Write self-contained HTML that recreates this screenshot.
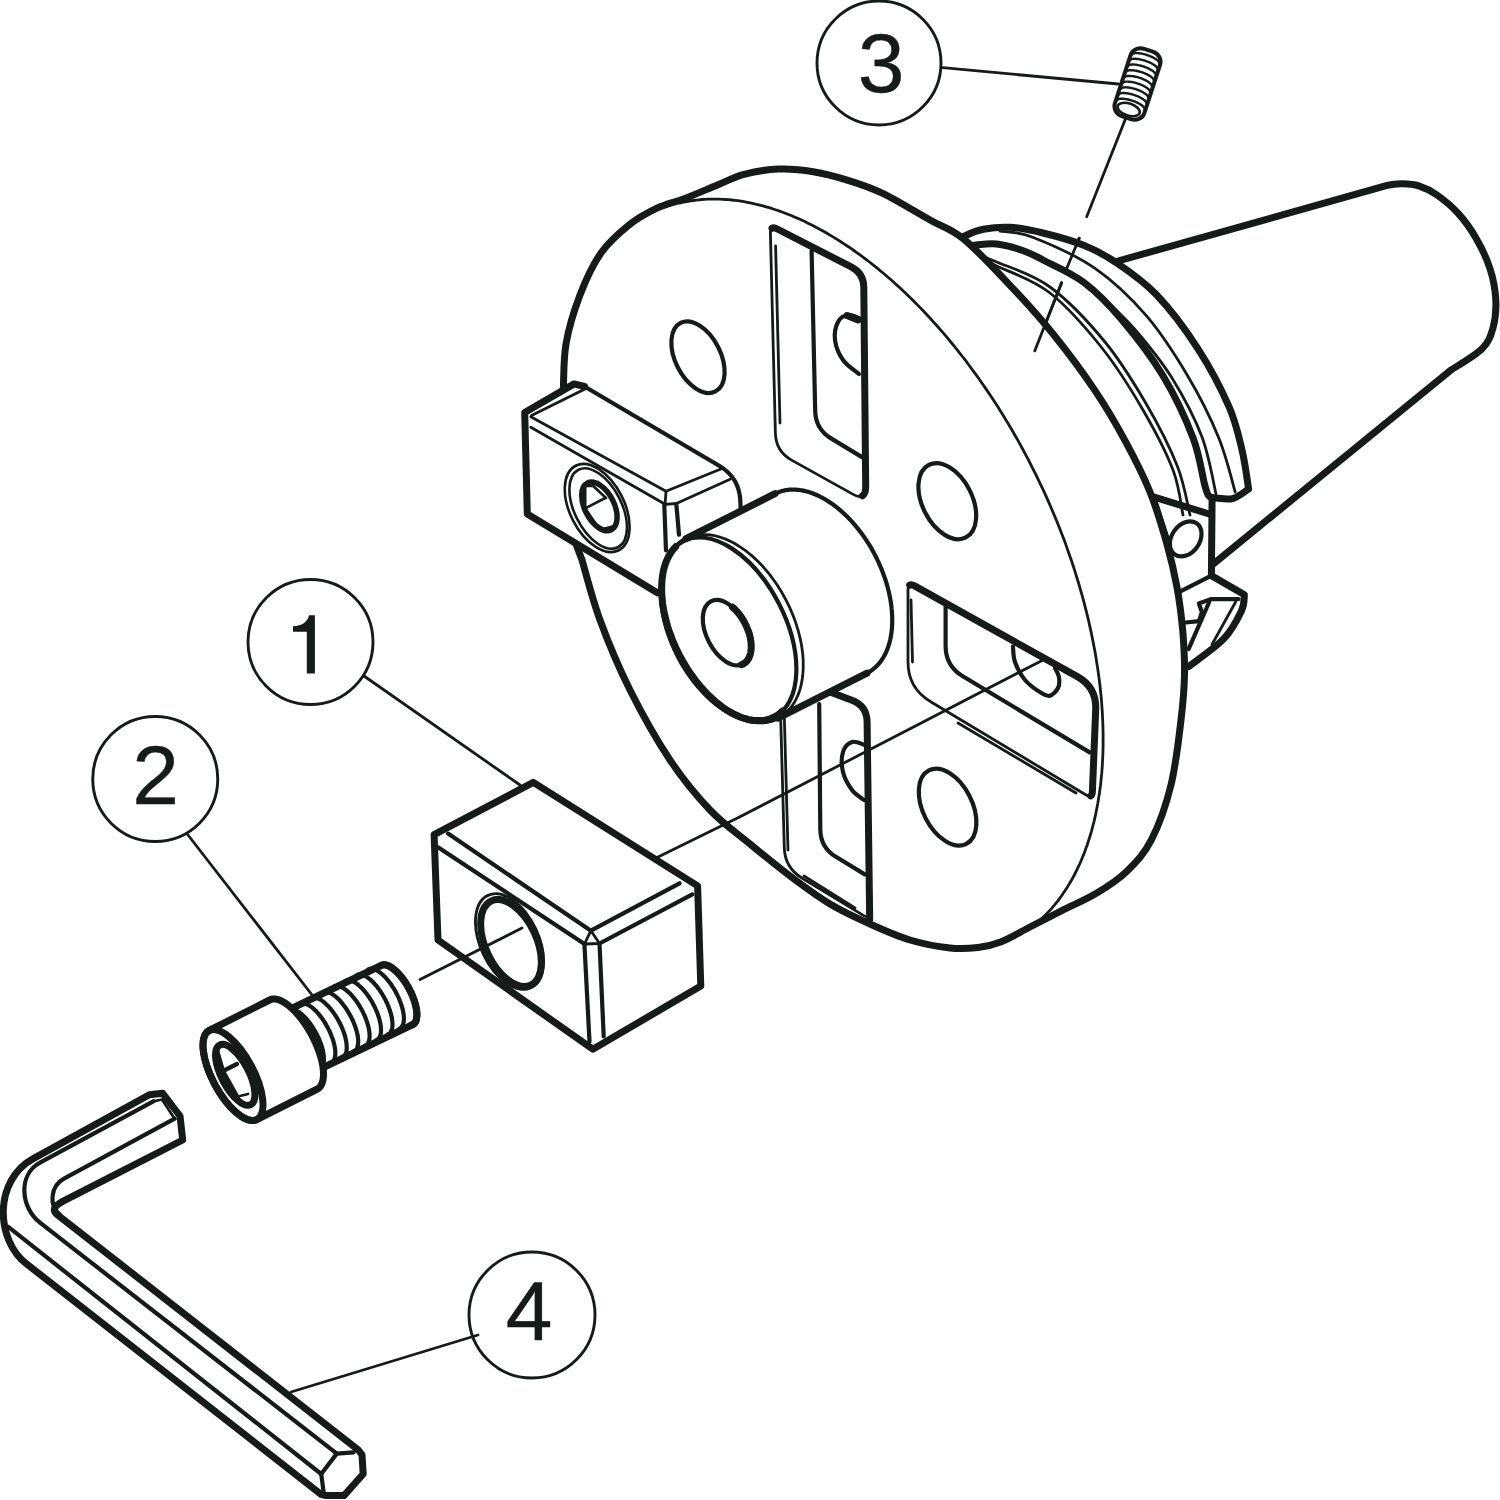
<!DOCTYPE html>
<html><head><meta charset="utf-8"><style>
html,body{margin:0;padding:0;background:#fff;}
svg{display:block;}
text{font-family:"Liberation Sans",sans-serif;}
</style></head><body>
<svg width="1500" height="1500" viewBox="0 0 1500 1500">
<g fill="none" stroke="#161a19" stroke-linecap="round" stroke-linejoin="round">
<circle cx="879" cy="63" r="62" stroke-width="2.9" fill="#fff"/>
<circle cx="310.5" cy="642" r="62.5" stroke-width="2.9" fill="#fff"/>
<circle cx="155.25" cy="779" r="62.5" stroke-width="2.9" fill="#fff"/>
<circle cx="532" cy="1315" r="63" stroke-width="2.9" fill="#fff"/>
<path d="M942.7 67.7 L1118.3 84" stroke-width="2.8" fill="none"/>
<path d="M364 676 L520 785" stroke-width="2.8" fill="none"/>
<path d="M188 835 L311.7 994.5" stroke-width="2.8" fill="none"/>
<path d="M478 1335 L291 1392" stroke-width="2.8" fill="none"/>
<path d="M1128.3 111.7 L1086.7 216.7" stroke-width="2.8" fill="none"/>
<path d="M1079.2 238.2 L1066.8 268.2" stroke-width="2.8" fill="none"/>
<path d="M1061.6 282.7 L1034.7 350.9" stroke-width="2.8" fill="none"/>
<path d="M1111 263 L1388 185.2 C1390.3 185 1396.9 183.7 1402 183.8 C1407.1 183.9 1413 184 1418.8 185.9 C1424.6 187.8 1430.5 190.4 1437 195 C1443.5 199.6 1451.5 206 1458 213.2 C1464.5 220.4 1470.8 229.1 1476.2 238.4 C1481.6 247.7 1486.9 258.9 1490.2 269.2 C1493.5 279.5 1495.3 290.2 1495.8 300 C1496.3 309.8 1495.3 319.8 1493 328 C1490.7 336.2 1488.8 342 1481.8 349 C1474.8 356 1456.1 366.5 1451 370 L1213.3 564" stroke-width="7" fill="#fff"/>
<path d="M950 245 C952.5 243.5 959.2 238.6 964.7 236 C970.2 233.4 975.8 230.8 983.3 229.3 C990.8 227.9 1000 226.7 1010 227.3 C1020 227.9 1030.6 230 1043 233 C1055.4 236 1072.2 240.7 1084.3 245.5 C1096.3 250.3 1103.2 253.8 1115.3 262 C1127.4 270.2 1142.9 280.5 1156.7 295 C1170.5 309.5 1186 330.2 1198 348.8 C1210 367.4 1221.7 389.8 1229 406.7 C1236.3 423.6 1238.7 436.3 1242 450 C1245.3 463.7 1247.5 482.5 1248.6 489 C1245.9 490.6 1238.3 497.1 1232.7 498.6 C1227.1 500.1 1218 498 1215 497.9 C1214 497.6 1210.7 498 1209 496 C1207.3 494 1207.7 495.7 1205 486 C1202.3 476.3 1200 456.1 1193 437.7 C1186 419.3 1174.8 395.3 1163 375.7 C1151.2 356.1 1135.1 335.4 1122 319.9 C1108.9 304.4 1097.5 292.7 1084.3 282.7 C1071.1 272.7 1053.2 265.3 1043 260 C1032.8 254.7 1031 253.4 1023.3 250.7 C1015.6 248 1004.9 244.9 996.7 244 C988.5 243.1 977.8 245.1 974 245.3" stroke-width="7" fill="#fff"/>
<path d="M1000 231 C1005.5 232 1016.9 231 1032.7 237.2 C1048.5 243.4 1075.8 255.1 1094.7 268.2 C1113.6 281.3 1130.8 297.8 1146.3 315.7 C1161.8 333.6 1175.5 355.4 1187.6 375.7 C1199.7 396 1210.8 418.3 1218.7 437.7 C1226.6 457.1 1232.5 482.9 1235.2 492" stroke-width="2.8" fill="none"/>
<path d="M1116 310 C1119.7 313.8 1128.7 321.7 1138 333 C1147.3 344.3 1161.3 360.7 1172 378 C1182.7 395.3 1194.7 417.7 1202 437 C1209.3 456.3 1213.7 484.5 1216 494" stroke-width="2.8" fill="none"/>
<path d="M978.9 255.8 C981.9 256.8 984.9 256.8 996.7 262 C1008.6 267.2 1032 273.7 1050 287 C1068 300.3 1089 322.5 1105 342 C1121 361.5 1134.2 383.3 1146.3 404 C1158.3 424.7 1170 447.5 1177.3 466 C1184.6 484.5 1187.9 506.8 1190 515" stroke-width="2.8" fill="none"/>
<path d="M982 260 C984.5 261 985.4 260.5 996.7 266 C1008 271.5 1032.5 279.3 1050 293 C1067.5 306.7 1086.5 328.5 1102 348 C1117.5 367.5 1131.2 389.7 1143 410 C1154.8 430.3 1166.3 452.5 1173 470 C1179.7 487.5 1181.3 507.5 1183 515" stroke-width="2.8" fill="none"/>
<path d="M1212.1 497.9 L1211.4 575" stroke-width="7" fill="none"/>
<path d="M1154.2 497.1 L1209.2 514" stroke-width="7" fill="none"/>
<path d="M1154.2 497.1 L1168.1 540" stroke-width="4.2" fill="none"/>
<ellipse cx="1185.7" cy="538.9" rx="14" ry="19" transform="rotate(35 1185.7 538.9)" stroke-width="4.2" fill="none"/>
<path d="M1211.4 575.6 L1244.4 594.7 C1243.9 597.4 1244.9 603.5 1241.5 610.8 C1238.1 618.1 1232.7 629.4 1223.9 638.7 C1215.1 648 1194.6 661.9 1188.7 666.5" stroke-width="7" fill="none"/>
<path d="M1211.4 575.6 L1179.9 591.7" stroke-width="4.2" fill="none"/>
<path d="M1238.5 599.1 L1210.7 599.1 L1198.9 603.5 L1201.9 612.3 L1198.9 621.1 L1185.7 622.5" stroke-width="4.2" fill="none"/>
<path d="M1209.2 602 L1188.7 648.9" stroke-width="4.2" fill="none"/>
<path d="M1235.6 602 L1212 644.5" stroke-width="2.8" fill="none"/>
<path d="M567 520 C566 511.7 561.9 485 561 470 C560.1 455 561.1 442.8 561.5 430 C561.9 417.2 562.5 407.3 563.2 393 C564 378.7 563.2 360.3 566 344 C568.8 327.7 574.2 310.2 580 295 C585.8 279.8 592.8 264.7 601 253 C609.2 241.3 619.7 232.5 629 225 C638.3 217.5 647.7 212.6 657 208.2 C666.3 203.8 674.8 202.3 685 198.4 C695.2 194.5 708.2 188.7 718 184.7 C727.8 180.7 733.9 176.9 744 174.3 C754.1 171.7 767.2 169.5 778.7 169.1 C790.2 168.7 801.8 169.8 813.3 171.7 C824.8 173.6 836.4 176.7 848 180.3 C859.6 183.9 869 186.7 882.7 193.3 C896.4 199.9 916.6 212.4 930 220 C943.4 227.6 950 227.8 963.3 238.7 C976.6 249.6 995 269.4 1010 285.3 C1025 301.2 1039.2 316.8 1053.3 334.3 C1067.4 351.8 1082.6 372.2 1094.7 390.1 C1106.8 408 1116.5 424.8 1125.7 441.8 C1134.9 458.8 1143.2 475.1 1150 492 C1156.8 508.9 1162.2 527.4 1166.7 543.3 C1171.2 559.2 1174.3 572.6 1177 587.3 C1179.7 602 1181.5 616.7 1182.8 631.3 C1184 645.9 1184.8 660.2 1184.5 675 C1184.2 689.8 1183.2 701.7 1181 720 C1178.8 738.3 1175.9 765 1171 785 C1166.1 805 1158.8 825.4 1151.5 839.7 C1144.2 854 1136.5 861.9 1127.2 870.9 C1118 879.9 1107 886.9 1096 893.5 C1085 900.1 1072.3 905.2 1061.3 910.8 C1050.3 916.4 1040.1 921.8 1030 927 C1019.9 932.2 1009.4 938.6 1000.7 942 C992 945.4 986.5 946.5 978 947.5 C969.5 948.5 961.3 949.2 950 948 C938.7 946.8 923.3 944 910 940 C896.7 936 883.3 930 870 924 C856.7 918 843.3 912 830 904 C816.7 896 803.3 886 790 876 C776.7 866 763.3 855 750 844 C736.7 833 723.3 824 710 810 C696.7 796 683.3 780 670 760 C656.7 740 641.7 713.3 630 690 C618.3 666.7 608 641.7 600 620 C592 598.3 585 570 582 560Z" stroke-width="7" fill="#fff"/>
<path d="M679.6 203.1 L682.3 202.5 L685.1 201.9 L687.9 201.4 L690.7 200.9 L693.5 200.5 L696.3 200.1 L699.2 199.8 L702 199.5 L704.9 199.3 L707.8 199.2 L710.8 199.1 L713.7 199.1 L716.7 199.1 L719.7 199.1 L722.7 199.3 L725.7 199.5 L728.7 199.7 L731.7 200 L734.8 200.3 L737.9 200.7 L741 201.2 L744 201.7 L747.2 202.3 L750.3 202.9 L753.4 203.6 L756.6 204.3 L759.7 205.1 L762.9 205.9 L766.1 206.8 L769.2 207.7 L772.4 208.7 L775.6 209.8 L778.9 210.9 L782.1 212 L785.3 213.2 L788.5 214.5 L791.8 215.8 L795 217.2 L798.3 218.6 L801.5 220.1 L804.8 221.6 L808 223.2 L811.3 224.8 L814.6 226.5 L817.8 228.2 L821.1 230 L824.4 231.8 L827.7 233.7 L830.9 235.6 L834.2 237.6 L837.5 239.6 L840.8 241.7 L844 243.8 L847.3 246 L850.6 248.2 L853.9 250.5 L857.1 252.8 L860.4 255.2 L863.6 257.6 L866.9 260 L870.1 262.5 L873.4 265.1 L876.6 267.7 L879.8 270.3 L883.1 273 L886.3 275.7 L889.5 278.5 L892.7 281.3 L895.9 284.2 L899 287.1 L902.2 290 L905.4 293 L908.5 296 L911.6 299.1 L914.8 302.2 L917.9 305.4 L921 308.5 L924.1 311.8 L927.1 315 L930.2 318.3 L933.2 321.7 L936.3 325 L939.3 328.5 L942.3 331.9 L945.3 335.4 L948.2 338.9 L951.2 342.5 L954.1 346 L957 349.7 L959.9 353.3 L962.8 357 L965.7 360.7 L968.5 364.5 L971.3 368.3 L974.1 372.1 L976.9 375.9 L979.6 379.8 L982.4 383.7 L985.1 387.6 L987.8 391.6 L990.4 395.5 L993.1 399.5 L995.7 403.6 L998.3 407.6 L1000.9 411.7 L1003.4 415.8 L1005.9 420 L1008.4 424.1 L1010.9 428.3 L1013.4 432.5 L1015.8 436.7 L1018.2 440.9 L1020.5 445.2 L1022.9 449.5 L1025.2 453.8 L1027.5 458.1 L1029.7 462.4 L1031.9 466.8 L1034.1 471.1 L1036.3 475.5 L1038.4 479.9 L1040.5 484.3 L1042.6 488.7 L1044.7 493.2 L1046.7 497.6 L1048.7 502.1 L1050.6 506.5 L1052.5 511 L1054.4 515.5 L1056.3 520 L1058.1 524.5 L1059.9 529 L1061.6 533.5 L1063.4 538.1 L1065.1 542.6 L1066.7 547.1 L1068.3 551.7 L1069.9 556.2 L1071.5 560.8 L1073 565.3 L1074.5 569.9 L1075.9 574.4 L1077.3 579 L1078.7 583.5 L1080 588.1 L1081.3 592.6 L1082.6 597.2 L1083.8 601.7 L1085 606.3 L1086.2 610.8 L1087.3 615.3 L1088.4 619.8 L1089.4 624.4 L1090.4 628.9 L1091.4 633.4 L1092.3 637.9 L1093.2 642.4 L1094.1 646.9 L1094.9 651.3 L1095.7 655.8 L1096.4 660.2 L1097.1 664.7 L1097.8 669.1 L1098.4 673.5 L1099 677.9 L1099.6 682.3 L1100.1 686.6 L1100.5 691 L1101 695.3 L1101.4 699.6 L1101.7 703.9 L1102 708.2 L1102.3 712.5 L1102.5 716.7 L1102.7 720.9 L1102.9 725.1 L1103 729.3 L1103.1 733.5 L1103.1 737.6 L1103.1 741.7 L1103.1 745.8 L1103 749.8 L1102.9 753.9 L1102.7 757.9 L1102.5 761.9 L1102.3 765.8 L1102 769.8 L1101.7 773.7 L1101.3 777.5 L1100.9 781.4 L1100.5 785.2 L1100 789 L1099.5 792.7 L1098.9 796.4 L1098.3 800.1 L1097.7 803.8 L1097 807.4 L1096.3 811 L1095.6 814.6 L1094.8 818.1 L1094 821.6 L1093.1 825 L1092.2 828.4 L1091.3 831.8 L1090.3 835.2 L1089.3 838.5 L1088.2 841.7 L1087.2 845 L1086 848.1 L1084.9 851.3 L1083.7 854.4 L1082.4 857.5 L1081.2 860.5 L1079.9 863.5 L1078.5 866.4 L1077.1 869.3 L1075.7 872.2 L1074.3 875 L1072.8 877.8 L1071.3 880.5 L1069.7 883.2 L1068.1 885.9 L1066.5 888.5 L1064.8 891 L1063.1 893.5 L1061.4 896 L1059.7 898.4 L1057.9 900.8 L1056 903.1 L1054.2 905.4 L1052.3 907.6 L1050.4 909.8 L1048.4 911.9 L1046.4 914 L1044.4 916 L1042.3 918 L1040.3 919.9 L1038.2 921.8 L1036 923.6 L1033.8 925.4" stroke-width="2.8" fill="none"/>
<ellipse cx="698" cy="357.2" rx="22.6" ry="38.4" transform="rotate(-27 698 357.2)" stroke-width="4.2" fill="none"/>
<ellipse cx="947.3" cy="501.2" rx="24.9" ry="40.7" transform="rotate(-27 947.3 501.2)" stroke-width="4.2" fill="none"/>
<ellipse cx="947.6" cy="807.2" rx="24.6" ry="41.2" transform="rotate(-27 947.6 807.2)" stroke-width="4.2" fill="none"/>
<path d="M777.3 229.0 L851.2 266.9 Q863.7 273.3 863.8 287.3 L865.7 486.4 Q865.8 501.4 852.7 494.1 L791.6 460.1 Q775.9 451.4 775.4 433.4 L770.4 233.3 Q770.2 225.3 777.3 229.0Z" stroke-width="2.8" fill="none"/>
<path d="M772.0 228.2 Q773.8 227.1 777.3 229.0 L851.2 266.9 Q863.7 273.3 863.8 287.3 L865.7 486.4 Q865.7 493.9 862.5 495.8" stroke-width="7.0" fill="none"/>
<path d="M775.6 246 L780 423" stroke-width="2.8" fill="none"/>
<path d="M811.6 250.8 L815.2 411.0 Q815.6 429.0 831.0 438.4 L862.0 457.1" stroke-width="4.2" fill="none"/>
<path d="M861 319 C858.8 318.3 851.8 314.5 848 315 C844.2 315.5 840.2 317.8 838 322 C835.8 326.2 834.2 333.7 835 340 C835.8 346.3 839 354.3 843 360 C847 365.7 856.3 371.7 859 374" stroke-width="4.2" fill="none"/>
<path d="M847 315.5 L858 320" stroke-width="7" fill="none"/>
<path d="M915.0 586.1 L1077.4 676.6 Q1096.6 687.4 1095.7 709.3 L1092.4 791.6 Q1092.1 798.6 1086.1 795.0 L930.3 701.5 Q908.0 688.1 908.0 662.1 L908.0 590.2 Q908.0 582.2 915.0 586.1Z" stroke-width="2.8" fill="none"/>
<path d="M909.7 585.1 Q911.5 584.1 915.0 586.1 L1077.4 676.6 Q1096.6 687.4 1095.7 709.3 L1092.4 791.6 Q1092.3 795.1 1090.7 795.9" stroke-width="7.0" fill="none"/>
<path d="M911 600 L912.5 662" stroke-width="2.8" fill="none"/>
<path d="M958 723 L1076 793" stroke-width="2.8" fill="none"/>
<path d="M945.6 606.8 L945.6 646.0 Q945.6 666.0 962.8 676.3 L1089.7 752.4" stroke-width="4.2" fill="none"/>
<path d="M1013 646.6 C1013.3 649.2 1013 656.4 1015 662 C1017 667.6 1020.7 674.9 1025 680 C1029.3 685.1 1036.5 690 1040.6 692.6 C1044.7 695.2 1046.9 696.5 1049.8 695.7 C1052.7 694.9 1056.5 691.1 1058 688 C1059.5 684.9 1059.5 680.6 1059 677.3 C1058.5 674 1055.7 669.5 1055 668" stroke-width="4.2" fill="none"/>
<path d="M779.9 690.0 L784.3 847.6 Q784.8 867.6 801.9 878.0 L863.7 915.6 Q869.7 919.2 869.6 912.2 L867.1 722.0 Q866.9 706.0 851.9 700.3 L830.0 692.0" stroke-width="2.8" fill="none"/>
<path d="M869.7 919.2 L867.1 722.0 Q866.9 706.0 851.9 700.3 L830.0 692.0" stroke-width="7.0" fill="none"/>
<path d="M784 705 L788 850" stroke-width="2.8" fill="none"/>
<path d="M804 876 L855 908" stroke-width="2.8" fill="none"/>
<path d="M819.2 704.0 L820.3 829.4 Q820.5 847.4 835.9 856.8 L864.8 874.4" stroke-width="4.2" fill="none"/>
<path d="M864.8 745 C862.7 744.5 855.6 740.8 852 742 C848.4 743.2 844.5 747 843 752 C841.5 757 841.5 765.7 843 772 C844.5 778.3 848.5 785.3 852 790 C855.5 794.7 862 798.3 864 800" stroke-width="4.2" fill="none"/>
<path d="M740 816.8 L1042.1 660.4" stroke-width="2.8" fill="none"/>
<path d="M524.7 412.5 L574.1 383.9 L584.5 386.5 L721.5 467.1 L733.6 477.5 L740.5 501.7 L741 530 L657.3 592.7 L527.3 513.9Z" stroke-width="0" fill="#fff"/>
<path d="M584.5 386.5 L574.1 383.9 L524.7 412.5 L527.3 513.9 L657.3 592.7" stroke-width="7" fill="none"/>
<path d="M584.5 386.5 L719.2 465.7 Q739.8 477.9 740.4 501.9 L741.0 525.0" stroke-width="4.2" fill="none"/>
<path d="M530.8 416.8 L666 491.3 L721.5 468.8" stroke-width="2.8" fill="none"/>
<path d="M531.5 415.5 L586 388.5" stroke-width="2.8" fill="none"/>
<path d="M530.8 427.2 L665.1 504.3 L676.4 503.5 L730.1 479.2" stroke-width="2.8" fill="none"/>
<path d="M666 491.3 L665.1 504.3" stroke-width="2.8" fill="none"/>
<path d="M664.3 505 L666 550.3" stroke-width="4.2" fill="none"/>
<path d="M676.4 505 L679 534.7" stroke-width="4.2" fill="none"/>
<ellipse cx="597.2" cy="508" rx="27.2" ry="47.4" transform="rotate(-27 597.2 508)" stroke-width="2.6" fill="none"/>
<ellipse cx="598.2" cy="508.5" rx="23.5" ry="43.5" transform="rotate(-27 598.2 508.5)" stroke-width="2.6" fill="none"/>
<ellipse cx="599.4" cy="506.4" rx="14.7" ry="26.2" transform="rotate(-27 599.4 506.4)" stroke-width="5.5" fill="none"/>
<path d="M585.2 486 L593.2 486 L606 498 M585.2 486 L585.2 508.4 L600 530 L614 526 M585.2 508.4 L605.2 498" stroke-width="2.6" fill="none"/>
<path d="M660.8 590.8 L660.8 589.3 L660.8 587.8 L660.9 586.3 L661 584.9 L661.1 583.4 L661.2 582 L661.4 580.6 L661.5 579.1 L661.7 577.8 L662 576.4 L662.2 575 L662.5 573.7 L662.7 572.4 L663 571.1 L663.4 569.8 L663.7 568.5 L664.1 567.3 L664.5 566 L664.9 564.8 L665.3 563.6 L665.7 562.5 L666.2 561.3 L666.7 560.2 L667.2 559 L667.7 558 L668.3 556.9 L668.8 555.8 L669.4 554.8 L670 553.8 L670.6 552.8 L671.3 551.9 L671.9 550.9 L672.6 550 L673.3 549.1 L674 548.3 L674.8 547.4 L675.5 546.6 L676.3 545.8 L677.1 545 L677.9 544.3 L678.7 543.6 L679.5 542.9 L680.4 542.2 L681.2 541.6 L682.1 541 L683 540.4 L683.9 539.9 L684.8 539.3 L685.8 538.8 L774.8 493.8 L775.7 493.4 L776.7 492.9 L777.7 492.5 L778.7 492.1 L779.7 491.7 L780.7 491.4 L781.7 491.1 L782.8 490.8 L783.8 490.6 L784.9 490.3 L786 490.1 L787 490 L788.1 489.8 L789.2 489.7 L790.4 489.6 L791.5 489.6 L792.6 489.6 L793.8 489.6 L794.9 489.6 L796.1 489.7 L797.3 489.8 L798.4 489.9 L799.6 490 L800.8 490.2 L802 490.4 L803.2 490.6 L804.4 490.9 L805.6 491.2 L806.8 491.5 L808.1 491.8 L809.3 492.2 L810.5 492.6 L811.8 493 L813 493.5 L814.2 494 L815.5 494.5 L816.7 495 L817.9 495.6 L819.2 496.2 L820.4 496.8 L821.7 497.4 L822.9 498.1 L824.2 498.8 L825.4 499.5 L826.6 500.3 L827.9 501.1 L829.1 501.9 L830.4 502.7 L831.6 503.5 L832.8 504.4 L834 505.3 L835.2 506.2 L836.5 507.1 L837.7 508.1 L838.9 509.1 L840.1 510.1 L841.3 511.1 L842.5 512.2 L843.6 513.3 L844.8 514.4 L846 515.5 L847.2 516.6 L848.3 517.8 L849.5 519 L850.6 520.2 L851.7 521.4 L852.8 522.6 L853.9 523.9 L855 525.2 L856.1 526.5 L857.2 527.8 L858.3 529.1 L859.3 530.5 L860.4 531.8 L861.4 533.2 L862.4 534.6 L863.4 536 L864.4 537.4 L865.4 538.9 L866.4 540.3 L867.3 541.8 L868.2 543.2 L869.2 544.7 L870.1 546.2 L871 547.7 L871.9 549.2 L872.7 550.8 L873.6 552.3 L874.4 553.9 L875.2 555.4 L876 557 L876.8 558.6 L877.5 560.1 L878.3 561.7 L879 563.3 L879.7 564.9 L880.4 566.5 L881.1 568.2 L881.8 569.8 L882.4 571.4 L883 573 L883.6 574.7 L884.2 576.3 L884.8 577.9 L885.3 579.6 L885.9 581.2 L886.4 582.8 L886.8 584.5 L887.3 586.1 L887.8 587.8 L888.2 589.4 L888.6 591 L889 592.6 L889.3 594.3 L889.7 595.9 L890 597.5 L890.3 599.1 L890.6 600.8 L890.8 602.4 L891.1 604 L891.3 605.5 L891.5 607.1 L891.6 608.7 L891.8 610.3 L891.9 611.9 L892 613.4 L892.1 615 L892.2 616.5 L892.2 618 L892.2 619.5 L892.2 621 L892.2 622.5 L892.2 624 L892.1 625.5 L892 627 L891.9 628.4 L891.8 629.8 L891.6 631.2 L891.5 632.6 L891.3 634 L891 635.4 L890.8 636.8 L890.5 638.1 L890.3 639.4 L890 640.7 L889.6 642 L889.3 643.3 L888.9 644.5 L888.5 645.8 L888.1 647 L887.7 648.2 L887.3 649.4 L886.8 650.5 L886.3 651.6 L885.8 652.8 L885.3 653.9 L884.7 654.9 L884.2 656 L883.6 657 L883 658 L882.4 659 L881.7 659.9 L881.1 660.9 L880.4 661.8 L879.7 662.7 L879 663.5 L878.2 664.4 L877.5 665.2 L876.7 666 L875.9 666.8 L875.1 667.5 L874.3 668.2 L873.5 668.9 L872.6 669.6 L871.8 670.2 L870.9 670.8 L870 671.4 L869.1 671.9 L868.2 672.5 L867.2 673 L778.2 718 L777.3 718.5 L776.3 718.9 L775.3 719.3 L774.3 719.7 L773.3 720.1 L772.3 720.4 L771.3 720.7 L770.2 721 L769.2 721.2 L768.1 721.5 L767 721.7 L766 721.8 L764.9 722 L763.8 722.1 L762.6 722.2 L761.5 722.2 L760.4 722.2 L759.2 722.2 L758.1 722.2 L756.9 722.1 L755.7 722 L754.6 721.9 L753.4 721.8 L752.2 721.6 L751 721.4 L749.8 721.2 L748.6 720.9 L747.4 720.6 L746.2 720.3 L744.9 720 L743.7 719.6 L742.5 719.2 L741.2 718.8 L740 718.3 L738.8 717.8 L737.5 717.3 L736.3 716.8 L735.1 716.2 L733.8 715.6 L732.6 715 L731.3 714.4 L730.1 713.7 L728.8 713 L727.6 712.3 L726.4 711.5 L725.1 710.8 L723.9 710 L722.6 709.1 L721.4 708.3 L720.2 707.4 L719 706.5 L717.8 705.6 L716.5 704.6 L715.3 703.7 L714.1 702.7 L712.9 701.7 L711.7 700.6 L710.5 699.6 L709.4 698.5 L708.2 697.4 L707 696.3 L705.8 695.1 L704.7 694 L703.5 692.8 L702.4 691.6 L701.3 690.4 L700.2 689.1 L699.1 687.9 L698 686.6 L696.9 685.3 L695.8 684 L694.7 682.7 L693.7 681.3 L692.6 680 L691.6 678.6 L690.6 677.2 L689.6 675.8 L688.6 674.4 L687.6 673 L686.6 671.5 L685.7 670 L684.8 668.6 L683.8 667.1 L682.9 665.6 L682 664.1 L681.1 662.6 L680.3 661 L679.4 659.5 L678.6 657.9 L677.8 656.4 L677 654.8 L676.2 653.2 L675.5 651.6 L674.7 650.1 L674 648.5 L673.3 646.9 L672.6 645.2 L671.9 643.6 L671.2 642 L670.6 640.4 L670 638.8 L669.4 637.1 L668.8 635.5 L668.2 633.9 L667.7 632.2 L667.1 630.6 L666.6 629 L666.2 627.3 L665.7 625.7 L665.2 624 L664.8 622.4 L664.4 620.8 L664 619.1 L663.7 617.5 L663.3 615.9 L663 614.3 L662.7 612.7 L662.4 611 L662.2 609.4 L661.9 607.8 L661.7 606.2 L661.5 604.7 L661.4 603.1 L661.2 601.5 L661.1 599.9 L661 598.4 L660.9 596.8 L660.8 595.3 L660.8 593.8 L660.8 592.3 L660.8 590.8Z" stroke-width="4.2" fill="#fff"/>
<path d="M686 538.7 L775 493.7" stroke-width="7" fill="none"/>
<path d="M778 718.1 L867 673.1" stroke-width="7" fill="none"/>
<path d="M667.2 559 L668.5 556.5 L669.9 554 L671.4 551.7 L673 549.5 L674.7 547.5 L676.5 545.6 L678.4 543.8 L680.5 542.2 L682.5 540.7 L684.7 539.4 L687 538.2 L689.3 537.2 L691.7 536.4 L694.2 535.7 L696.8 535.2 L699.4 534.8 L702.1 534.6 L704.8 534.6 L707.5 534.7 L710.4 535 L713.2 535.4 L716.1 536 L719 536.8 L721.9 537.8 L724.9 538.8 L727.8 540.1 L730.8 541.5 L733.8 543 L736.7 544.7 L739.7 546.6 L742.6 548.6 L745.6 550.7 L748.5 553 L751.4 555.3 L754.2 557.9 L757 560.5 L759.8 563.3 L762.5 566.1 L765.1 569.1 L767.7 572.2 L770.3 575.4 L772.7 578.7 L775.1 582 L777.5 585.5 L779.7 589 L781.9 592.6 L783.9 596.2 L785.9 599.9 L787.8 603.7 L789.6 607.4 L791.3 611.3 L792.9 615.1 L794.4 619 L795.8 622.9 L797 626.8 L798.2 630.7 L799.2 634.7 L800.2 638.6 L801 642.4 L801.7 646.3 L802.2 650.1 L802.7 653.9 L803 657.6 L803.2 661.3 L803.2 665 L803.2 668.5 L803 672 L802.7 675.5 L802.3 678.8 L801.7 682.1 L801.1 685.2 L800.3 688.3 L799.4 691.2 L798.4 694.1 L797.2 696.8 L796 699.4 L794.6 701.9 L793.1 704.3 L791.6 706.5 L789.9 708.6 L788.1 710.6 L786.2 712.4 L784.3 714.1 L782.2 715.6 L780 717 L777.8 718.2 L775.5 719.2 L773.1 720.1 L770.6 720.9 L768.1 721.5" stroke-width="2.8" fill="none"/>
<ellipse cx="729" cy="629" rx="56" ry="99" transform="rotate(-27.3 729 629)" stroke-width="4.2" fill="none"/>
<path d="M782.4 711.2 L780.9 712.5 L779.4 713.8 L777.8 715 L776.1 716 L774.4 717 L772.6 717.8 L770.8 718.6 L769 719.2 L767 719.7 L765.1 720.1 L763.1 720.4 L761 720.6 L758.9 720.6 L756.8 720.6 L754.6 720.5 L752.5 720.2 L750.2 719.8 L748 719.3 L745.7 718.7 L743.4 718 L741.1 717.2 L738.8 716.3 L736.5 715.3 L734.1 714.1 L731.8 712.9 L729.4 711.6 L727.1 710.1 L724.7 708.6 L722.4 707 L720.1 705.2 L717.7 703.4 L715.4 701.5 L713.1 699.5 L710.9 697.4 L708.6 695.2 L706.4 693 L704.2 690.6 L702 688.2 L699.9 685.8 L697.8 683.2 L695.7 680.6 L693.7 677.9 L691.7 675.2 L689.8 672.4 L687.9 669.6 L686 666.7 L684.3 663.7 L682.5 660.8 L680.9 657.7 L679.2 654.7 L677.7 651.6 L676.2 648.5 L674.8 645.3 L673.4 642.2 L672.1 639 L670.9 635.8 L669.7 632.6 L668.6 629.4 L667.6 626.2 L666.7 623 L665.9 619.9 L665.1 616.7 L664.4 613.5 L663.7 610.4 L663.2 607.3 L662.7 604.2 L662.4 601.1 L662.1 598.1 L661.8 595.1 L661.7 592.1 L661.6 589.2 L661.7 586.4 L661.8 583.6 L662 580.8 L662.2 578.1 L662.6 575.5 L663 572.9 L663.5 570.4 L664.1 568 L664.8 565.7 L665.5 563.4 L666.4 561.2 L667.3 559.1 L668.3 557.1 L669.3 555.1 L670.4 553.3 L671.6 551.5 L672.9 549.9 L674.2 548.3 L675.6 546.8" stroke-width="7" fill="none"/>
<ellipse cx="727" cy="632.7" rx="20.3" ry="35.2" transform="rotate(-27.3 727 632.7)" stroke-width="4.2" fill="none"/>
<path d="M732.5 607.1 L733.1 607.7 L733.7 608.2 L734.3 608.7 L734.9 609.3 L735.4 609.9 L736 610.5 L736.6 611.1 L737.1 611.7 L737.7 612.3 L738.2 613 L738.8 613.7 L739.3 614.3 L739.8 615 L740.3 615.7 L740.8 616.4 L741.3 617.1 L741.8 617.9 L742.3 618.6 L742.8 619.4 L743.2 620.1 L743.7 620.9 L744.1 621.6 L744.5 622.4 L744.9 623.2 L745.3 624 L745.7 624.8 L746.1 625.6 L746.5 626.4 L746.8 627.2 L747.2 628 L747.5 628.8 L747.8 629.7 L748.1 630.5 L748.4 631.3 L748.7 632.1 L749 632.9 L749.2 633.8 L749.5 634.6 L749.7 635.4 L749.9 636.2 L750.1 637 L750.3 637.9 L750.4 638.7 L750.6 639.5 L750.7 640.3 L750.8 641.1 L750.9 641.9 L751 642.7 L751.1 643.4 L751.1 644.2 L751.2 645 L751.2 645.7 L751.2 646.5 L751.2 647.2 L751.2 648 L751.1 648.7 L751.1 649.4 L751 650.1 L750.9 650.8 L750.9 651.5 L750.7 652.1 L750.6 652.8 L750.5 653.4 L750.3 654.1 L750.1 654.7 L750 655.3 L749.8 655.9 L749.5 656.4 L749.3 657 L749.1 657.5 L748.8 658.1 L748.5 658.6 L748.3 659.1 L748 659.5 L747.6 660 L747.3 660.4 L747 660.9 L746.6 661.3 L746.3 661.7 L745.9 662 L745.5 662.4 L745.1 662.7 L744.7 663 L744.3 663.3 L743.8 663.6 L743.4 663.9 L742.9 664.1 L742.5 664.3 L742 664.5 L741.5 664.7" stroke-width="7" fill="none"/>
<path d="M533.3 782.4 L434.1 834.7 L438 940 L592.8 1049.2 L700.8 986.1 L697.6 885.9Z" stroke-width="7" fill="#fff"/>
<path d="M448 833.6 L590.9 930.7 L679.5 883.3" stroke-width="4.2" fill="none"/>
<path d="M438.4 847.5 L584.5 944" stroke-width="4.2" fill="none"/>
<path d="M599.5 943.5 L692.3 894.4" stroke-width="4.2" fill="none"/>
<path d="M590.9 930.7 L584.5 944 L599.5 943.5 L590.9 930.7" stroke-width="2.8" fill="none"/>
<path d="M584.5 945.6 L589.5 1041.6" stroke-width="4.2" fill="none"/>
<path d="M599.5 943.5 L603.7 1036.3" stroke-width="4.2" fill="none"/>
<ellipse cx="509.5" cy="941.5" rx="29.1" ry="50.9" transform="rotate(-25 509.5 941.5)" stroke-width="2.8" fill="none"/>
<ellipse cx="511" cy="943" rx="25.5" ry="46.5" transform="rotate(-25 511 943)" stroke-width="7" fill="none"/>
<path d="M522 928 L420 979.6" stroke-width="2.8" fill="none"/>
<path d="M656 858 L740 816.8" stroke-width="2.8" fill="none"/>
<path d="M264.7 1028.9 L264.7 1028.2 L264.8 1027.4 L264.8 1026.7 L264.9 1026 L265.1 1025.3 L265.2 1024.7 L265.4 1024.1 L265.6 1023.5 L265.8 1022.9 L266 1022.4 L266.3 1021.9 L266.6 1021.5 L266.9 1021.1 L267.2 1020.7 L267.5 1020.3 L267.9 1020 L268.3 1019.8 L268.7 1019.5 L381.1 965.5 L381.6 965.3 L382 965.1 L382.5 965 L382.9 964.9 L383.4 964.8 L383.9 964.8 L384.5 964.8 L385 964.9 L385.6 965 L386.2 965.1 L386.8 965.2 L387.4 965.4 L388 965.7 L388.6 965.9 L389.2 966.2 L389.9 966.6 L390.5 966.9 L391.2 967.4 L391.9 967.8 L392.5 968.3 L393.2 968.8 L393.9 969.3 L394.6 969.9 L395.3 970.5 L396 971.1 L396.7 971.8 L397.4 972.5 L398.1 973.2 L398.7 973.9 L399.4 974.7 L400.1 975.5 L400.8 976.3 L401.5 977.1 L402.1 978 L402.8 978.9 L403.5 979.8 L404.1 980.7 L404.8 981.6 L405.4 982.6 L406 983.5 L406.6 984.5 L407.2 985.5 L407.8 986.5 L408.4 987.5 L409 988.5 L409.5 989.6 L410.1 990.6 L410.6 991.7 L411.1 992.7 L411.6 993.8 L412 994.8 L412.5 995.9 L412.9 996.9 L413.3 998 L413.7 999 L414.1 1000.1 L414.4 1001.1 L414.7 1002.1 L415 1003.2 L415.3 1004.2 L415.6 1005.2 L415.8 1006.1 L416 1007.1 L416.2 1008.1 L416.4 1009 L416.5 1010 L416.6 1010.9 L416.7 1011.7 L416.8 1012.6 L416.9 1013.5 L416.9 1014.3 L416.9 1015.1 L416.9 1015.9 L416.8 1016.6 L416.7 1017.3 L416.6 1018 L416.5 1018.7 L416.4 1019.3 L416.2 1019.9 L416 1020.5 L415.8 1021.1 L415.6 1021.6 L415.3 1022.1 L415 1022.5 L414.7 1022.9 L414.4 1023.3 L414.1 1023.7 L413.7 1024 L413.3 1024.2 L412.9 1024.5 L300.4 1078.5 L300 1078.7 L299.6 1078.9 L299.1 1079 L298.6 1079.1 L298.1 1079.2 L297.6 1079.2 L297.1 1079.2 L296.5 1079.1 L296 1079 L295.4 1078.9 L294.8 1078.8 L294.2 1078.6 L293.6 1078.3 L293 1078.1 L292.3 1077.8 L291.7 1077.4 L291 1077.1 L290.4 1076.7 L289.7 1076.2 L289 1075.7 L288.4 1075.2 L287.7 1074.7 L287 1074.1 L286.3 1073.5 L285.6 1072.9 L284.9 1072.2 L284.2 1071.5 L283.5 1070.8 L282.8 1070.1 L282.1 1069.3 L281.4 1068.5 L280.8 1067.7 L280.1 1066.9 L279.4 1066 L278.8 1065.2 L278.1 1064.2 L277.4 1063.3 L276.8 1062.4 L276.2 1061.4 L275.5 1060.5 L274.9 1059.5 L274.3 1058.5 L273.7 1057.5 L273.2 1056.5 L272.6 1055.5 L272.1 1054.4 L271.5 1053.4 L271 1052.3 L270.5 1051.3 L270 1050.2 L269.6 1049.2 L269.1 1048.1 L268.7 1047.1 L268.3 1046 L267.9 1045 L267.5 1043.9 L267.2 1042.9 L266.9 1041.9 L266.5 1040.8 L266.3 1039.8 L266 1038.8 L265.8 1037.8 L265.6 1036.9 L265.4 1035.9 L265.2 1035 L265 1034 L264.9 1033.2 L264.8 1032.3 L264.8 1031.4 L264.7 1030.5 L264.7 1029.7 L264.7 1028.9Z" stroke-width="7" fill="#fff"/>
<path d="M288.3 1009.6 L288.7 1009.4 L289.1 1009.3 L289.6 1009.2 L290.1 1009.1 L290.6 1009 L291.1 1009 L291.7 1009 L292.2 1009.1 L292.8 1009.2 L293.4 1009.3 L293.9 1009.5 L294.6 1009.7 L295.2 1010 L295.8 1010.2 L296.4 1010.5 L297.1 1010.9 L297.7 1011.3 L298.4 1011.7 L299.1 1012.1 L299.7 1012.6 L300.4 1013.1 L301.1 1013.7 L301.8 1014.3 L302.5 1014.9 L303.2 1015.5 L303.9 1016.2 L304.6 1016.9 L305.3 1017.6 L306 1018.4 L306.6 1019.1 L307.3 1019.9 L308 1020.7 L308.7 1021.6 L309.4 1022.5 L310 1023.3 L310.7 1024.3 L311.3 1025.2 L312 1026.1 L312.6 1027.1 L313.2 1028 L313.8 1029 L314.4 1030 L315 1031 L315.6 1032.1 L316.1 1033.1 L316.7 1034.1 L317.2 1035.2 L317.7 1036.2 L318.2 1037.3 L318.7 1038.3 L319.2 1039.4 L319.6 1040.4 L320 1041.5 L320.4 1042.5 L320.8 1043.6 L321.2 1044.6 L321.5 1045.6 L321.8 1046.7 L322.1 1047.7 L322.4 1048.7 L322.6 1049.7 L322.9 1050.7 L323.1 1051.6 L323.3 1052.6 L323.4 1053.5 L323.6 1054.4 L323.7 1055.3 L323.8 1056.2 L323.8 1057.1 L323.9 1057.9 L323.9 1058.7 L323.9 1059.5 L323.8 1060.3 L323.8 1061 L323.7 1061.8 L323.6 1062.4 L323.5 1063.1 L323.3 1063.7 L323.2 1064.3 L323 1064.9 L322.7 1065.4 L322.5 1065.9 L322.2 1066.4 L321.9 1066.9 L321.6 1067.3 L321.3 1067.6 L320.9 1068 L320.6 1068.3 L320.2 1068.5 L319.7 1068.8" stroke-width="4.2" fill="none"/>
<path d="M299.7 1003.9 L300.1 1003.7 L300.6 1003.5 L301 1003.4 L301.5 1003.3 L302 1003.3 L302.5 1003.3 L303.1 1003.3 L303.6 1003.3 L304.2 1003.4 L304.8 1003.6 L305.4 1003.7 L306 1004 L306.6 1004.2 L307.2 1004.5 L307.9 1004.8 L308.5 1005.1 L309.2 1005.5 L309.8 1005.9 L310.5 1006.4 L311.2 1006.9 L311.9 1007.4 L312.5 1007.9 L313.2 1008.5 L313.9 1009.1 L314.6 1009.8 L315.3 1010.4 L316 1011.1 L316.7 1011.8 L317.4 1012.6 L318.1 1013.4 L318.8 1014.2 L319.4 1015 L320.1 1015.8 L320.8 1016.7 L321.5 1017.6 L322.1 1018.5 L322.8 1019.4 L323.4 1020.4 L324 1021.3 L324.7 1022.3 L325.3 1023.3 L325.9 1024.3 L326.4 1025.3 L327 1026.3 L327.6 1027.3 L328.1 1028.4 L328.6 1029.4 L329.2 1030.5 L329.7 1031.5 L330.1 1032.6 L330.6 1033.6 L331 1034.7 L331.4 1035.7 L331.8 1036.8 L332.2 1037.8 L332.6 1038.8 L332.9 1039.9 L333.3 1040.9 L333.5 1041.9 L333.8 1042.9 L334.1 1043.9 L334.3 1044.9 L334.5 1045.9 L334.7 1046.8 L334.9 1047.8 L335 1048.7 L335.1 1049.6 L335.2 1050.5 L335.3 1051.3 L335.3 1052.2 L335.3 1053 L335.3 1053.8 L335.3 1054.5 L335.2 1055.3 L335.1 1056 L335 1056.7 L334.9 1057.3 L334.8 1058 L334.6 1058.6 L334.4 1059.1 L334.2 1059.7 L333.9 1060.2 L333.6 1060.7 L333.4 1061.1 L333 1061.5 L332.7 1061.9 L332.4 1062.2 L332 1062.5 L331.6 1062.8 L331.2 1063" stroke-width="4.2" fill="none"/>
<path d="M311.1 998.1 L311.5 997.9 L312 997.8 L312.5 997.6 L313 997.6 L313.5 997.5 L314 997.5 L314.5 997.5 L315.1 997.6 L315.6 997.7 L316.2 997.8 L316.8 998 L317.4 998.2 L318 998.4 L318.7 998.7 L319.3 999 L319.9 999.4 L320.6 999.8 L321.3 1000.2 L321.9 1000.6 L322.6 1001.1 L323.3 1001.6 L324 1002.2 L324.7 1002.7 L325.3 1003.4 L326 1004 L326.7 1004.7 L327.4 1005.4 L328.1 1006.1 L328.8 1006.8 L329.5 1007.6 L330.2 1008.4 L330.9 1009.2 L331.5 1010.1 L332.2 1010.9 L332.9 1011.8 L333.5 1012.7 L334.2 1013.7 L334.8 1014.6 L335.5 1015.6 L336.1 1016.5 L336.7 1017.5 L337.3 1018.5 L337.9 1019.5 L338.4 1020.5 L339 1021.6 L339.5 1022.6 L340.1 1023.6 L340.6 1024.7 L341.1 1025.7 L341.6 1026.8 L342 1027.8 L342.5 1028.9 L342.9 1030 L343.3 1031 L343.7 1032.1 L344 1033.1 L344.4 1034.1 L344.7 1035.1 L345 1036.2 L345.3 1037.2 L345.5 1038.2 L345.7 1039.1 L345.9 1040.1 L346.1 1041.1 L346.3 1042 L346.4 1042.9 L346.5 1043.8 L346.6 1044.7 L346.7 1045.6 L346.7 1046.4 L346.7 1047.2 L346.7 1048 L346.7 1048.8 L346.7 1049.5 L346.6 1050.2 L346.5 1050.9 L346.3 1051.6 L346.2 1052.2 L346 1052.8 L345.8 1053.4 L345.6 1053.9 L345.3 1054.4 L345.1 1054.9 L344.8 1055.3 L344.5 1055.7 L344.1 1056.1 L343.8 1056.5 L343.4 1056.8 L343 1057 L342.6 1057.3" stroke-width="4.2" fill="none"/>
<path d="M322.5 992.4 L323 992.2 L323.4 992 L323.9 991.9 L324.4 991.8 L324.9 991.8 L325.4 991.7 L325.9 991.8 L326.5 991.8 L327.1 991.9 L327.6 992.1 L328.2 992.2 L328.8 992.4 L329.5 992.7 L330.1 993 L330.7 993.3 L331.4 993.6 L332 994 L332.7 994.4 L333.4 994.9 L334 995.3 L334.7 995.9 L335.4 996.4 L336.1 997 L336.8 997.6 L337.5 998.2 L338.2 998.9 L338.9 999.6 L339.6 1000.3 L340.2 1001.1 L340.9 1001.8 L341.6 1002.6 L342.3 1003.5 L343 1004.3 L343.6 1005.2 L344.3 1006.1 L345 1007 L345.6 1007.9 L346.3 1008.8 L346.9 1009.8 L347.5 1010.8 L348.1 1011.8 L348.7 1012.8 L349.3 1013.8 L349.9 1014.8 L350.4 1015.8 L351 1016.8 L351.5 1017.9 L352 1018.9 L352.5 1020 L353 1021 L353.4 1022.1 L353.9 1023.1 L354.3 1024.2 L354.7 1025.2 L355.1 1026.3 L355.4 1027.3 L355.8 1028.4 L356.1 1029.4 L356.4 1030.4 L356.7 1031.4 L356.9 1032.4 L357.2 1033.4 L357.4 1034.4 L357.6 1035.3 L357.7 1036.2 L357.9 1037.2 L358 1038.1 L358.1 1038.9 L358.1 1039.8 L358.2 1040.6 L358.2 1041.5 L358.2 1042.3 L358.1 1043 L358.1 1043.8 L358 1044.5 L357.9 1045.2 L357.8 1045.8 L357.6 1046.5 L357.4 1047.1 L357.2 1047.6 L357 1048.2 L356.8 1048.7 L356.5 1049.1 L356.2 1049.6 L355.9 1050 L355.6 1050.4 L355.2 1050.7 L354.8 1051 L354.4 1051.3 L354 1051.5" stroke-width="4.2" fill="none"/>
<path d="M334 986.6 L334.4 986.4 L334.9 986.3 L335.3 986.1 L335.8 986 L336.3 986 L336.8 986 L337.4 986 L337.9 986.1 L338.5 986.2 L339.1 986.3 L339.7 986.5 L340.3 986.7 L340.9 986.9 L341.5 987.2 L342.1 987.5 L342.8 987.9 L343.5 988.2 L344.1 988.7 L344.8 989.1 L345.5 989.6 L346.1 990.1 L346.8 990.7 L347.5 991.2 L348.2 991.8 L348.9 992.5 L349.6 993.1 L350.3 993.8 L351 994.6 L351.7 995.3 L352.4 996.1 L353 996.9 L353.7 997.7 L354.4 998.6 L355.1 999.4 L355.7 1000.3 L356.4 1001.2 L357.1 1002.1 L357.7 1003.1 L358.3 1004 L358.9 1005 L359.6 1006 L360.1 1007 L360.7 1008 L361.3 1009 L361.9 1010.1 L362.4 1011.1 L362.9 1012.1 L363.4 1013.2 L363.9 1014.2 L364.4 1015.3 L364.9 1016.3 L365.3 1017.4 L365.7 1018.4 L366.1 1019.5 L366.5 1020.5 L366.9 1021.6 L367.2 1022.6 L367.5 1023.6 L367.8 1024.6 L368.1 1025.7 L368.4 1026.6 L368.6 1027.6 L368.8 1028.6 L369 1029.6 L369.1 1030.5 L369.3 1031.4 L369.4 1032.3 L369.5 1033.2 L369.5 1034 L369.6 1034.9 L369.6 1035.7 L369.6 1036.5 L369.6 1037.3 L369.5 1038 L369.4 1038.7 L369.3 1039.4 L369.2 1040.1 L369 1040.7 L368.9 1041.3 L368.7 1041.9 L368.4 1042.4 L368.2 1042.9 L367.9 1043.4 L367.6 1043.8 L367.3 1044.2 L367 1044.6 L366.6 1044.9 L366.3 1045.2 L365.9 1045.5 L365.5 1045.7" stroke-width="4.2" fill="none"/>
<path d="M345.4 980.8 L345.8 980.7 L346.3 980.5 L346.7 980.4 L347.2 980.3 L347.7 980.2 L348.3 980.2 L348.8 980.2 L349.4 980.3 L349.9 980.4 L350.5 980.5 L351.1 980.7 L351.7 980.9 L352.3 981.2 L352.9 981.4 L353.6 981.7 L354.2 982.1 L354.9 982.5 L355.5 982.9 L356.2 983.3 L356.9 983.8 L357.6 984.3 L358.3 984.9 L358.9 985.5 L359.6 986.1 L360.3 986.7 L361 987.4 L361.7 988.1 L362.4 988.8 L363.1 989.6 L363.8 990.3 L364.5 991.1 L365.2 992 L365.8 992.8 L366.5 993.7 L367.2 994.5 L367.8 995.5 L368.5 996.4 L369.1 997.3 L369.8 998.3 L370.4 999.3 L371 1000.2 L371.6 1001.2 L372.2 1002.2 L372.7 1003.3 L373.3 1004.3 L373.8 1005.3 L374.4 1006.4 L374.9 1007.4 L375.4 1008.5 L375.8 1009.5 L376.3 1010.6 L376.7 1011.6 L377.2 1012.7 L377.6 1013.7 L377.9 1014.8 L378.3 1015.8 L378.6 1016.8 L379 1017.9 L379.3 1018.9 L379.5 1019.9 L379.8 1020.9 L380 1021.9 L380.2 1022.8 L380.4 1023.8 L380.6 1024.7 L380.7 1025.6 L380.8 1026.5 L380.9 1027.4 L381 1028.3 L381 1029.1 L381 1029.9 L381 1030.7 L381 1031.5 L380.9 1032.2 L380.9 1033 L380.8 1033.6 L380.6 1034.3 L380.5 1034.9 L380.3 1035.5 L380.1 1036.1 L379.9 1036.6 L379.6 1037.1 L379.4 1037.6 L379.1 1038.1 L378.8 1038.5 L378.4 1038.8 L378.1 1039.2 L377.7 1039.5 L377.3 1039.7 L376.9 1040" stroke-width="4.2" fill="none"/>
<path d="M356.8 975.1 L357.3 974.9 L357.7 974.7 L358.2 974.6 L358.7 974.5 L359.2 974.5 L359.7 974.5 L360.2 974.5 L360.8 974.5 L361.3 974.6 L361.9 974.8 L362.5 974.9 L363.1 975.2 L363.7 975.4 L364.4 975.7 L365 976 L365.7 976.3 L366.3 976.7 L367 977.1 L367.6 977.6 L368.3 978.1 L369 978.6 L369.7 979.1 L370.4 979.7 L371.1 980.3 L371.8 981 L372.4 981.6 L373.1 982.3 L373.8 983 L374.5 983.8 L375.2 984.6 L375.9 985.4 L376.6 986.2 L377.3 987 L377.9 987.9 L378.6 988.8 L379.3 989.7 L379.9 990.6 L380.5 991.6 L381.2 992.5 L381.8 993.5 L382.4 994.5 L383 995.5 L383.6 996.5 L384.2 997.5 L384.7 998.5 L385.3 999.6 L385.8 1000.6 L386.3 1001.7 L386.8 1002.7 L387.3 1003.8 L387.7 1004.8 L388.2 1005.9 L388.6 1006.9 L389 1008 L389.4 1009 L389.7 1010.1 L390.1 1011.1 L390.4 1012.1 L390.7 1013.1 L391 1014.1 L391.2 1015.1 L391.4 1016.1 L391.7 1017.1 L391.8 1018 L392 1019 L392.1 1019.9 L392.3 1020.8 L392.3 1021.7 L392.4 1022.5 L392.4 1023.4 L392.5 1024.2 L392.5 1025 L392.4 1025.7 L392.4 1026.5 L392.3 1027.2 L392.2 1027.9 L392.1 1028.5 L391.9 1029.2 L391.7 1029.8 L391.5 1030.3 L391.3 1030.9 L391.1 1031.4 L390.8 1031.9 L390.5 1032.3 L390.2 1032.7 L389.9 1033.1 L389.5 1033.4 L389.1 1033.7 L388.7 1034 L388.3 1034.2" stroke-width="4.2" fill="none"/>
<path d="M368.3 969.3 L368.7 969.1 L369.1 969 L369.6 968.9 L370.1 968.8 L370.6 968.7 L371.1 968.7 L371.7 968.7 L372.2 968.8 L372.8 968.9 L373.4 969 L373.9 969.2 L374.6 969.4 L375.2 969.6 L375.8 969.9 L376.4 970.2 L377.1 970.6 L377.7 971 L378.4 971.4 L379.1 971.8 L379.7 972.3 L380.4 972.8 L381.1 973.4 L381.8 974 L382.5 974.6 L383.2 975.2 L383.9 975.9 L384.6 976.6 L385.3 977.3 L386 978 L386.6 978.8 L387.3 979.6 L388 980.4 L388.7 981.3 L389.4 982.1 L390 983 L390.7 983.9 L391.3 984.9 L392 985.8 L392.6 986.8 L393.2 987.7 L393.8 988.7 L394.4 989.7 L395 990.7 L395.6 991.7 L396.1 992.8 L396.7 993.8 L397.2 994.9 L397.7 995.9 L398.2 996.9 L398.7 998 L399.2 999.1 L399.6 1000.1 L400 1001.2 L400.4 1002.2 L400.8 1003.3 L401.2 1004.3 L401.5 1005.3 L401.8 1006.4 L402.1 1007.4 L402.4 1008.4 L402.6 1009.4 L402.9 1010.4 L403.1 1011.3 L403.3 1012.3 L403.4 1013.2 L403.6 1014.1 L403.7 1015 L403.8 1015.9 L403.8 1016.8 L403.9 1017.6 L403.9 1018.4 L403.9 1019.2 L403.8 1020 L403.8 1020.7 L403.7 1021.4 L403.6 1022.1 L403.5 1022.8 L403.3 1023.4 L403.2 1024 L403 1024.6 L402.7 1025.1 L402.5 1025.6 L402.2 1026.1 L401.9 1026.5 L401.6 1026.9 L401.3 1027.3 L400.9 1027.7 L400.6 1028 L400.2 1028.2 L399.7 1028.5" stroke-width="4.2" fill="none"/>
<path d="M381.3 965.4 L381.7 965.2 L382.1 965.1 L382.6 965 L383.1 964.9 L383.6 964.8 L384.1 964.8 L384.7 964.8 L385.2 964.9 L385.8 965 L386.4 965.1 L386.9 965.3 L387.6 965.5 L388.2 965.7 L388.8 966 L389.4 966.3 L390.1 966.7 L390.7 967.1 L391.4 967.5 L392.1 967.9 L392.7 968.4 L393.4 968.9 L394.1 969.5 L394.8 970.1 L395.5 970.7 L396.2 971.3 L396.9 972 L397.6 972.7 L398.3 973.4 L399 974.1 L399.6 974.9 L400.3 975.7 L401 976.5 L401.7 977.4 L402.4 978.2 L403 979.1 L403.7 980 L404.3 981 L405 981.9 L405.6 982.9 L406.2 983.8 L406.8 984.8 L407.4 985.8 L408 986.8 L408.6 987.9 L409.1 988.9 L409.7 989.9 L410.2 991 L410.7 992 L411.2 993.1 L411.7 994.1 L412.2 995.2 L412.6 996.2 L413 997.3 L413.4 998.3 L413.8 999.4 L414.2 1000.4 L414.5 1001.4 L414.8 1002.5 L415.1 1003.5 L415.4 1004.5 L415.6 1005.5 L415.9 1006.5 L416.1 1007.4 L416.3 1008.4 L416.4 1009.3 L416.6 1010.2 L416.7 1011.1 L416.8 1012 L416.8 1012.9 L416.9 1013.7 L416.9 1014.5 L416.9 1015.3 L416.8 1016.1 L416.8 1016.8 L416.7 1017.5 L416.6 1018.2 L416.5 1018.9 L416.3 1019.5 L416.2 1020.1 L416 1020.7 L415.7 1021.2 L415.5 1021.7 L415.2 1022.2 L414.9 1022.6 L414.6 1023.1 L414.3 1023.4 L413.9 1023.8 L413.6 1024.1 L413.2 1024.3 L412.7 1024.6" stroke-width="7" fill="none"/>
<path d="M203 1044.7 L203.1 1043.9 L203.1 1043 L203.2 1042.2 L203.2 1041.3 L203.3 1040.6 L203.5 1039.8 L203.6 1039 L203.8 1038.3 L204 1037.6 L204.2 1037 L204.4 1036.3 L204.7 1035.7 L204.9 1035.1 L205.2 1034.6 L205.5 1034 L205.8 1033.5 L206.2 1033 L206.5 1032.6 L206.9 1032.2 L207.3 1031.8 L207.7 1031.4 L208.2 1031.1 L208.6 1030.8 L209.1 1030.5 L269.6 1000 L270 999.8 L270.5 999.6 L271.1 999.4 L271.6 999.3 L272.1 999.1 L272.7 999.1 L273.2 999 L273.8 999 L274.4 999 L275.1 999 L275.7 999.1 L276.3 999.2 L277 999.3 L277.6 999.5 L278.3 999.7 L279 999.9 L279.7 1000.2 L280.4 1000.5 L281.1 1000.8 L281.8 1001.1 L282.5 1001.5 L283.2 1001.9 L284 1002.4 L284.7 1002.8 L285.5 1003.3 L286.2 1003.8 L287 1004.4 L287.8 1005 L288.6 1005.6 L289.3 1006.2 L290.1 1006.8 L290.9 1007.5 L291.7 1008.2 L292.5 1009 L293.2 1009.7 L294 1010.5 L295.6 1012.1 L296.4 1013 L297.2 1013.9 L297.9 1014.7 L298.7 1015.6 L299.5 1016.6 L300.2 1017.5 L301 1018.5 L301.8 1019.5 L302.5 1020.5 L303.3 1021.5 L304 1022.5 L304.7 1023.6 L305.5 1024.7 L306.2 1025.8 L306.9 1026.8 L307.6 1028 L308.3 1029.1 L308.9 1030.2 L309.6 1031.3 L310.9 1033.6 L311.6 1034.8 L312.2 1036 L312.8 1037.1 L313.4 1038.3 L313.9 1039.5 L314.5 1040.7 L315.1 1041.9 L315.6 1043 L316.1 1044.2 L316.6 1045.4 L317.1 1046.6 L317.6 1047.8 L318.5 1050.2 L318.9 1051.4 L319.3 1052.5 L319.7 1053.7 L320.1 1054.9 L320.4 1056 L320.8 1057.2 L321.1 1058.3 L321.4 1059.5 L321.7 1060.6 L321.9 1061.7 L322.2 1062.8 L322.4 1063.9 L322.6 1064.9 L322.8 1066 L322.9 1067 L323.1 1068.1 L323.2 1069.1 L323.3 1070.1 L323.4 1071 L323.4 1072 L323.5 1072.9 L323.5 1073.9 L323.5 1074.8 L323.4 1075.6 L323.4 1076.5 L323.3 1077.3 L323.3 1078.2 L323.1 1078.9 L323 1079.7 L322.9 1080.5 L322.7 1081.2 L322.5 1081.9 L322.3 1082.5 L322.1 1083.2 L321.9 1083.8 L321.6 1084.4 L321.3 1084.9 L321 1085.5 L320.7 1086 L320.3 1086.5 L320 1086.9 L319.6 1087.3 L319.2 1087.7 L318.8 1088.1 L318.4 1088.4 L317.9 1088.7 L317.4 1089 L256.9 1119.5 L256.5 1119.7 L256 1119.9 L255.4 1120.1 L254.9 1120.2 L254.4 1120.3 L253.8 1120.4 L253.2 1120.5 L252.7 1120.5 L252.1 1120.5 L251.4 1120.5 L250.8 1120.4 L250.2 1120.3 L249.5 1120.2 L248.9 1120 L248.2 1119.8 L247.5 1119.6 L246.8 1119.3 L246.1 1119 L245.4 1118.7 L244.7 1118.4 L244 1118 L243.2 1117.6 L242.5 1117.2 L241.8 1116.7 L241 1116.2 L240.2 1115.7 L239.5 1115.1 L238.7 1114.5 L237.9 1113.9 L237.2 1113.3 L236.4 1112.7 L235.6 1112 L234.8 1111.3 L234 1110.5 L233.2 1109.8 L232.5 1109 L230.9 1107.4 L230.1 1106.5 L229.3 1105.7 L228.6 1104.8 L227.8 1103.8 L227 1102.9 L226.2 1102 L225.5 1101 L224.7 1100 L224 1099 L223.2 1098 L222.5 1097 L221.8 1095.9 L221 1094.8 L220.3 1093.8 L219.6 1092.7 L218.9 1091.5 L218.2 1090.4 L217.6 1089.3 L216.9 1088.2 L215.6 1085.9 L214.9 1084.7 L214.3 1083.5 L213.7 1082.4 L213.1 1081.2 L212.6 1080 L212 1078.8 L211.4 1077.6 L210.9 1076.5 L210.4 1075.3 L209.9 1074.1 L209.4 1072.9 L208.9 1071.7 L208 1069.3 L207.6 1068.1 L207.2 1067 L206.8 1065.8 L206.4 1064.6 L206.1 1063.5 L205.7 1062.3 L205.4 1061.2 L205.1 1060 L204.8 1058.9 L204.6 1057.8 L204.3 1056.7 L204.1 1055.6 L203.9 1054.6 L203.7 1053.5 L203.6 1052.5 L203.4 1051.4 L203.3 1050.4 L203.2 1049.4 L203.1 1048.5 L203.1 1047.5 L203 1046.6 L203 1045.6 L203 1044.7Z" stroke-width="7" fill="#fff"/>
<ellipse cx="233" cy="1075" rx="20.5" ry="50.5" transform="rotate(-28.3 233 1075)" stroke-width="7" fill="none"/>
<path d="M219 1031.3 L219.6 1031.4 L220.3 1031.5 L221 1031.7 L221.6 1031.9 L222.3 1032.2 L223 1032.5 L223.8 1032.8 L224.5 1033.2 L225.2 1033.6 L226 1034 L226.7 1034.5 L227.5 1035 L228.3 1035.5 L229.1 1036.1 L229.9 1036.7 L230.7 1037.4 L231.4 1038 L232.3 1038.7 L233.1 1039.5 L233.9 1040.3 L234.7 1041 L235.5 1041.9 L236.3 1042.7 L237.1 1043.6 L237.9 1044.5 L238.7 1045.4 L239.5 1046.4 L240.4 1047.4 L241.2 1048.4 L241.9 1049.4 L242.7 1050.5 L243.5 1051.5 L244.3 1052.6 L245.1 1053.7 L245.8 1054.8 L246.6 1056 L247.3 1057.1 L248.1 1058.3 L248.8 1059.5 L249.5 1060.7 L250.2 1061.9 L250.9 1063.1 L251.6 1064.3 L252.2 1065.6 L252.9 1066.8 L253.5 1068.1 L254.1 1069.3 L254.7 1070.6 L255.3 1071.8 L255.8 1073.1 L256.4 1074.3 L256.9 1075.6 L257.4 1076.8 L257.9 1078.1 L258.4 1079.3 L258.8 1080.6 L259.2 1081.8 L259.6 1083 L260 1084.2 L260.4 1085.4 L260.7 1086.6 L261 1087.8 L261.3 1089 L261.6 1090.1 L261.9 1091.3 L262.1 1092.4 L262.3 1093.5 L262.5 1094.6 L262.6 1095.7 L262.8 1096.7 L262.9 1097.7 L262.9 1098.7 L263 1099.7 L263 1100.7 L263 1101.6 L263 1102.5 L263 1103.4 L262.9 1104.2 L262.8 1105 L262.7 1105.8 L262.6 1106.6 L262.4 1107.3 L262.2 1108 L262 1108.7 L261.8 1109.3 L261.6 1109.9 L261.3 1110.5 L261 1111.1 L260.6 1111.6 L260.3 1112" stroke-width="2.8" fill="none"/>
<ellipse cx="235.2" cy="1074.8" rx="13.6" ry="33.6" transform="rotate(-27.6 235.2 1074.8)" stroke-width="7" fill="none"/>
<path d="M223 1071 L237 1064" stroke-width="4.2" fill="none"/>
<path d="M217 1050 L223 1071 L238 1098" stroke-width="4.2" fill="none"/>
<path d="M240 1096 L248 1094" stroke-width="2.8" fill="none"/>
<path d="M149.3 1094.7 L162.7 1093.3 L180 1116 L182.7 1140 L62.7 1201.3 Q49.4 1208.5 57.3 1214.7 L358.4 1450 L362 1454.8 L363.2 1474 L344 1495.6 L326 1495.6 L321.2 1494.4 L26.7 1264 C-4.9 1239.6 -6.3 1180.1 33.3 1158.7 Z" stroke-width="7.0" fill="#fff"/>
<path d="M153.3 1101.3 L40 1162.7 C18 1174.6 20.3 1207.4 40 1222.7 L336.8 1453.6" stroke-width="4.2" fill="none"/>
<path d="M174.7 1118.7 L64 1178.7 C50.8 1185.8 48.2 1205.5 60 1214.7" stroke-width="4.2" fill="none"/>
<path d="M8 1226.7 L321.2 1474" stroke-width="4.2" fill="none"/>
<path d="M353.6 1452.4 L336.8 1453.6 L321.2 1474 L323.6 1492" stroke-width="4.2" fill="none"/>
<path d="M153.3 1101.3 L162 1099.5 L174.7 1118.7" stroke-width="2.8" fill="none"/>
<g transform="translate(1137.5 84) rotate(18)">
<rect x="-15.5" y="-35.5" width="31" height="71" rx="11" ry="10" stroke-width="4" fill="#fff"/>
<path d="M-14.4 -26.4 L-14.3 -26.7 L-14.1 -27.1 L-13.8 -27.4 L-13.4 -27.7 L-13 -28 L-12.5 -28.3 L-11.9 -28.6 L-11.3 -28.8 L-10.6 -29.1 L-9.8 -29.3 L-9 -29.5 L-8.1 -29.7 L-7.2 -29.9 L-6.2 -30.1 L-5.3 -30.2 L-4.2 -30.3 L-3.2 -30.4 L-2.1 -30.5 L-1.1 -30.5 L-0 -30.5 L1.1 -30.5 L2.1 -30.5 L3.2 -30.4 L4.2 -30.3 L5.3 -30.2 L6.2 -30.1 L7.2 -29.9 L8.1 -29.7 L9 -29.5 L9.8 -29.3 L10.6 -29.1 L11.3 -28.8 L11.9 -28.6 L12.5 -28.3 L13 -28 L13.4 -27.7 L13.8 -27.4 L14.1 -27.1 L14.3 -26.7 L14.4 -26.4" stroke-width="2.4" fill="none"/>
<path d="M-14.4 -20.4 L-14.3 -20.7 L-14.1 -21.1 L-13.8 -21.4 L-13.4 -21.7 L-13 -22 L-12.5 -22.3 L-11.9 -22.6 L-11.3 -22.8 L-10.6 -23.1 L-9.8 -23.3 L-9 -23.5 L-8.1 -23.7 L-7.2 -23.9 L-6.2 -24.1 L-5.3 -24.2 L-4.2 -24.3 L-3.2 -24.4 L-2.1 -24.5 L-1.1 -24.5 L-0 -24.5 L1.1 -24.5 L2.1 -24.5 L3.2 -24.4 L4.2 -24.3 L5.3 -24.2 L6.2 -24.1 L7.2 -23.9 L8.1 -23.7 L9 -23.5 L9.8 -23.3 L10.6 -23.1 L11.3 -22.8 L11.9 -22.6 L12.5 -22.3 L13 -22 L13.4 -21.7 L13.8 -21.4 L14.1 -21.1 L14.3 -20.7 L14.4 -20.4" stroke-width="2.4" fill="none"/>
<path d="M-14.4 -14.4 L-14.3 -14.7 L-14.1 -15.1 L-13.8 -15.4 L-13.4 -15.7 L-13 -16 L-12.5 -16.3 L-11.9 -16.6 L-11.3 -16.8 L-10.6 -17.1 L-9.8 -17.3 L-9 -17.5 L-8.1 -17.7 L-7.2 -17.9 L-6.2 -18.1 L-5.3 -18.2 L-4.2 -18.3 L-3.2 -18.4 L-2.1 -18.5 L-1.1 -18.5 L-0 -18.5 L1.1 -18.5 L2.1 -18.5 L3.2 -18.4 L4.2 -18.3 L5.3 -18.2 L6.2 -18.1 L7.2 -17.9 L8.1 -17.7 L9 -17.5 L9.8 -17.3 L10.6 -17.1 L11.3 -16.8 L11.9 -16.6 L12.5 -16.3 L13 -16 L13.4 -15.7 L13.8 -15.4 L14.1 -15.1 L14.3 -14.7 L14.4 -14.4" stroke-width="2.4" fill="none"/>
<path d="M-14.4 -8.4 L-14.3 -8.7 L-14.1 -9.1 L-13.8 -9.4 L-13.4 -9.7 L-13 -10 L-12.5 -10.3 L-11.9 -10.6 L-11.3 -10.8 L-10.6 -11.1 L-9.8 -11.3 L-9 -11.5 L-8.1 -11.7 L-7.2 -11.9 L-6.2 -12.1 L-5.3 -12.2 L-4.2 -12.3 L-3.2 -12.4 L-2.1 -12.5 L-1.1 -12.5 L-0 -12.5 L1.1 -12.5 L2.1 -12.5 L3.2 -12.4 L4.2 -12.3 L5.3 -12.2 L6.2 -12.1 L7.2 -11.9 L8.1 -11.7 L9 -11.5 L9.8 -11.3 L10.6 -11.1 L11.3 -10.8 L11.9 -10.6 L12.5 -10.3 L13 -10 L13.4 -9.7 L13.8 -9.4 L14.1 -9.1 L14.3 -8.7 L14.4 -8.4" stroke-width="2.4" fill="none"/>
<path d="M-14.4 -2.4 L-14.3 -2.7 L-14.1 -3.1 L-13.8 -3.4 L-13.4 -3.7 L-13 -4 L-12.5 -4.3 L-11.9 -4.6 L-11.3 -4.8 L-10.6 -5.1 L-9.8 -5.3 L-9 -5.5 L-8.1 -5.7 L-7.2 -5.9 L-6.2 -6.1 L-5.3 -6.2 L-4.2 -6.3 L-3.2 -6.4 L-2.1 -6.5 L-1.1 -6.5 L-0 -6.5 L1.1 -6.5 L2.1 -6.5 L3.2 -6.4 L4.2 -6.3 L5.3 -6.2 L6.2 -6.1 L7.2 -5.9 L8.1 -5.7 L9 -5.5 L9.8 -5.3 L10.6 -5.1 L11.3 -4.8 L11.9 -4.6 L12.5 -4.3 L13 -4 L13.4 -3.7 L13.8 -3.4 L14.1 -3.1 L14.3 -2.7 L14.4 -2.4" stroke-width="2.4" fill="none"/>
<path d="M-14.4 3.6 L-14.3 3.3 L-14.1 2.9 L-13.8 2.6 L-13.4 2.3 L-13 2 L-12.5 1.7 L-11.9 1.4 L-11.3 1.2 L-10.6 0.9 L-9.8 0.7 L-9 0.5 L-8.1 0.3 L-7.2 0.1 L-6.2 -0.1 L-5.3 -0.2 L-4.2 -0.3 L-3.2 -0.4 L-2.1 -0.5 L-1.1 -0.5 L-0 -0.5 L1.1 -0.5 L2.1 -0.5 L3.2 -0.4 L4.2 -0.3 L5.3 -0.2 L6.2 -0.1 L7.2 0.1 L8.1 0.3 L9 0.5 L9.8 0.7 L10.6 0.9 L11.3 1.2 L11.9 1.4 L12.5 1.7 L13 2 L13.4 2.3 L13.8 2.6 L14.1 2.9 L14.3 3.3 L14.4 3.6" stroke-width="2.4" fill="none"/>
<path d="M-14.4 9.6 L-14.3 9.3 L-14.1 8.9 L-13.8 8.6 L-13.4 8.3 L-13 8 L-12.5 7.7 L-11.9 7.4 L-11.3 7.2 L-10.6 6.9 L-9.8 6.7 L-9 6.5 L-8.1 6.3 L-7.2 6.1 L-6.2 5.9 L-5.3 5.8 L-4.2 5.7 L-3.2 5.6 L-2.1 5.5 L-1.1 5.5 L-0 5.5 L1.1 5.5 L2.1 5.5 L3.2 5.6 L4.2 5.7 L5.3 5.8 L6.2 5.9 L7.2 6.1 L8.1 6.3 L9 6.5 L9.8 6.7 L10.6 6.9 L11.3 7.2 L11.9 7.4 L12.5 7.7 L13 8 L13.4 8.3 L13.8 8.6 L14.1 8.9 L14.3 9.3 L14.4 9.6" stroke-width="2.4" fill="none"/>
<path d="M-14.4 15.6 L-14.3 15.3 L-14.1 14.9 L-13.8 14.6 L-13.4 14.3 L-13 14 L-12.5 13.7 L-11.9 13.4 L-11.3 13.2 L-10.6 12.9 L-9.8 12.7 L-9 12.5 L-8.1 12.3 L-7.2 12.1 L-6.2 11.9 L-5.3 11.8 L-4.2 11.7 L-3.2 11.6 L-2.1 11.5 L-1.1 11.5 L-0 11.5 L1.1 11.5 L2.1 11.5 L3.2 11.6 L4.2 11.7 L5.3 11.8 L6.2 11.9 L7.2 12.1 L8.1 12.3 L9 12.5 L9.8 12.7 L10.6 12.9 L11.3 13.2 L11.9 13.4 L12.5 13.7 L13 14 L13.4 14.3 L13.8 14.6 L14.1 14.9 L14.3 15.3 L14.4 15.6" stroke-width="2.4" fill="none"/>
<path d="M-14.4 21.6 L-14.3 21.3 L-14.1 20.9 L-13.8 20.6 L-13.4 20.3 L-13 20 L-12.5 19.7 L-11.9 19.4 L-11.3 19.2 L-10.6 18.9 L-9.8 18.7 L-9 18.5 L-8.1 18.3 L-7.2 18.1 L-6.2 17.9 L-5.3 17.8 L-4.2 17.7 L-3.2 17.6 L-2.1 17.5 L-1.1 17.5 L-0 17.5 L1.1 17.5 L2.1 17.5 L3.2 17.6 L4.2 17.7 L5.3 17.8 L6.2 17.9 L7.2 18.1 L8.1 18.3 L9 18.5 L9.8 18.7 L10.6 18.9 L11.3 19.2 L11.9 19.4 L12.5 19.7 L13 20 L13.4 20.3 L13.8 20.6 L14.1 20.9 L14.3 21.3 L14.4 21.6" stroke-width="2.4" fill="none"/>
<ellipse cx="-0.5" cy="27" rx="11.5" ry="6" transform="rotate(0 -0.5 27)" stroke-width="2.6" fill="none"/>
</g>
<path d="M1079.2 238.2 L1066.8 268.2" stroke-width="2.8" fill="none"/>
<path d="M1061.6 282.7 L1034.7 350.9" stroke-width="2.8" fill="none"/>
<path d="M306.8 673.6 L314.9 673.6 L314.9 615.3 L309 615.3 C307.5 622 302 626 293 626.3 L293 631.8 L306.8 631.8 Z" fill="#161a19" stroke="none"/>
<text x="881" y="92" font-size="84" text-anchor="middle" fill="#161a19" stroke="#161a19" stroke-width="0.4">3</text>
<text x="155.5" y="804" font-size="84" text-anchor="middle" fill="#161a19" stroke="#161a19" stroke-width="0.4">2</text>
<text x="529" y="1340" font-size="84" text-anchor="middle" fill="#161a19" stroke="#161a19" stroke-width="0.4">4</text>
</g>
</svg>
</body></html>
